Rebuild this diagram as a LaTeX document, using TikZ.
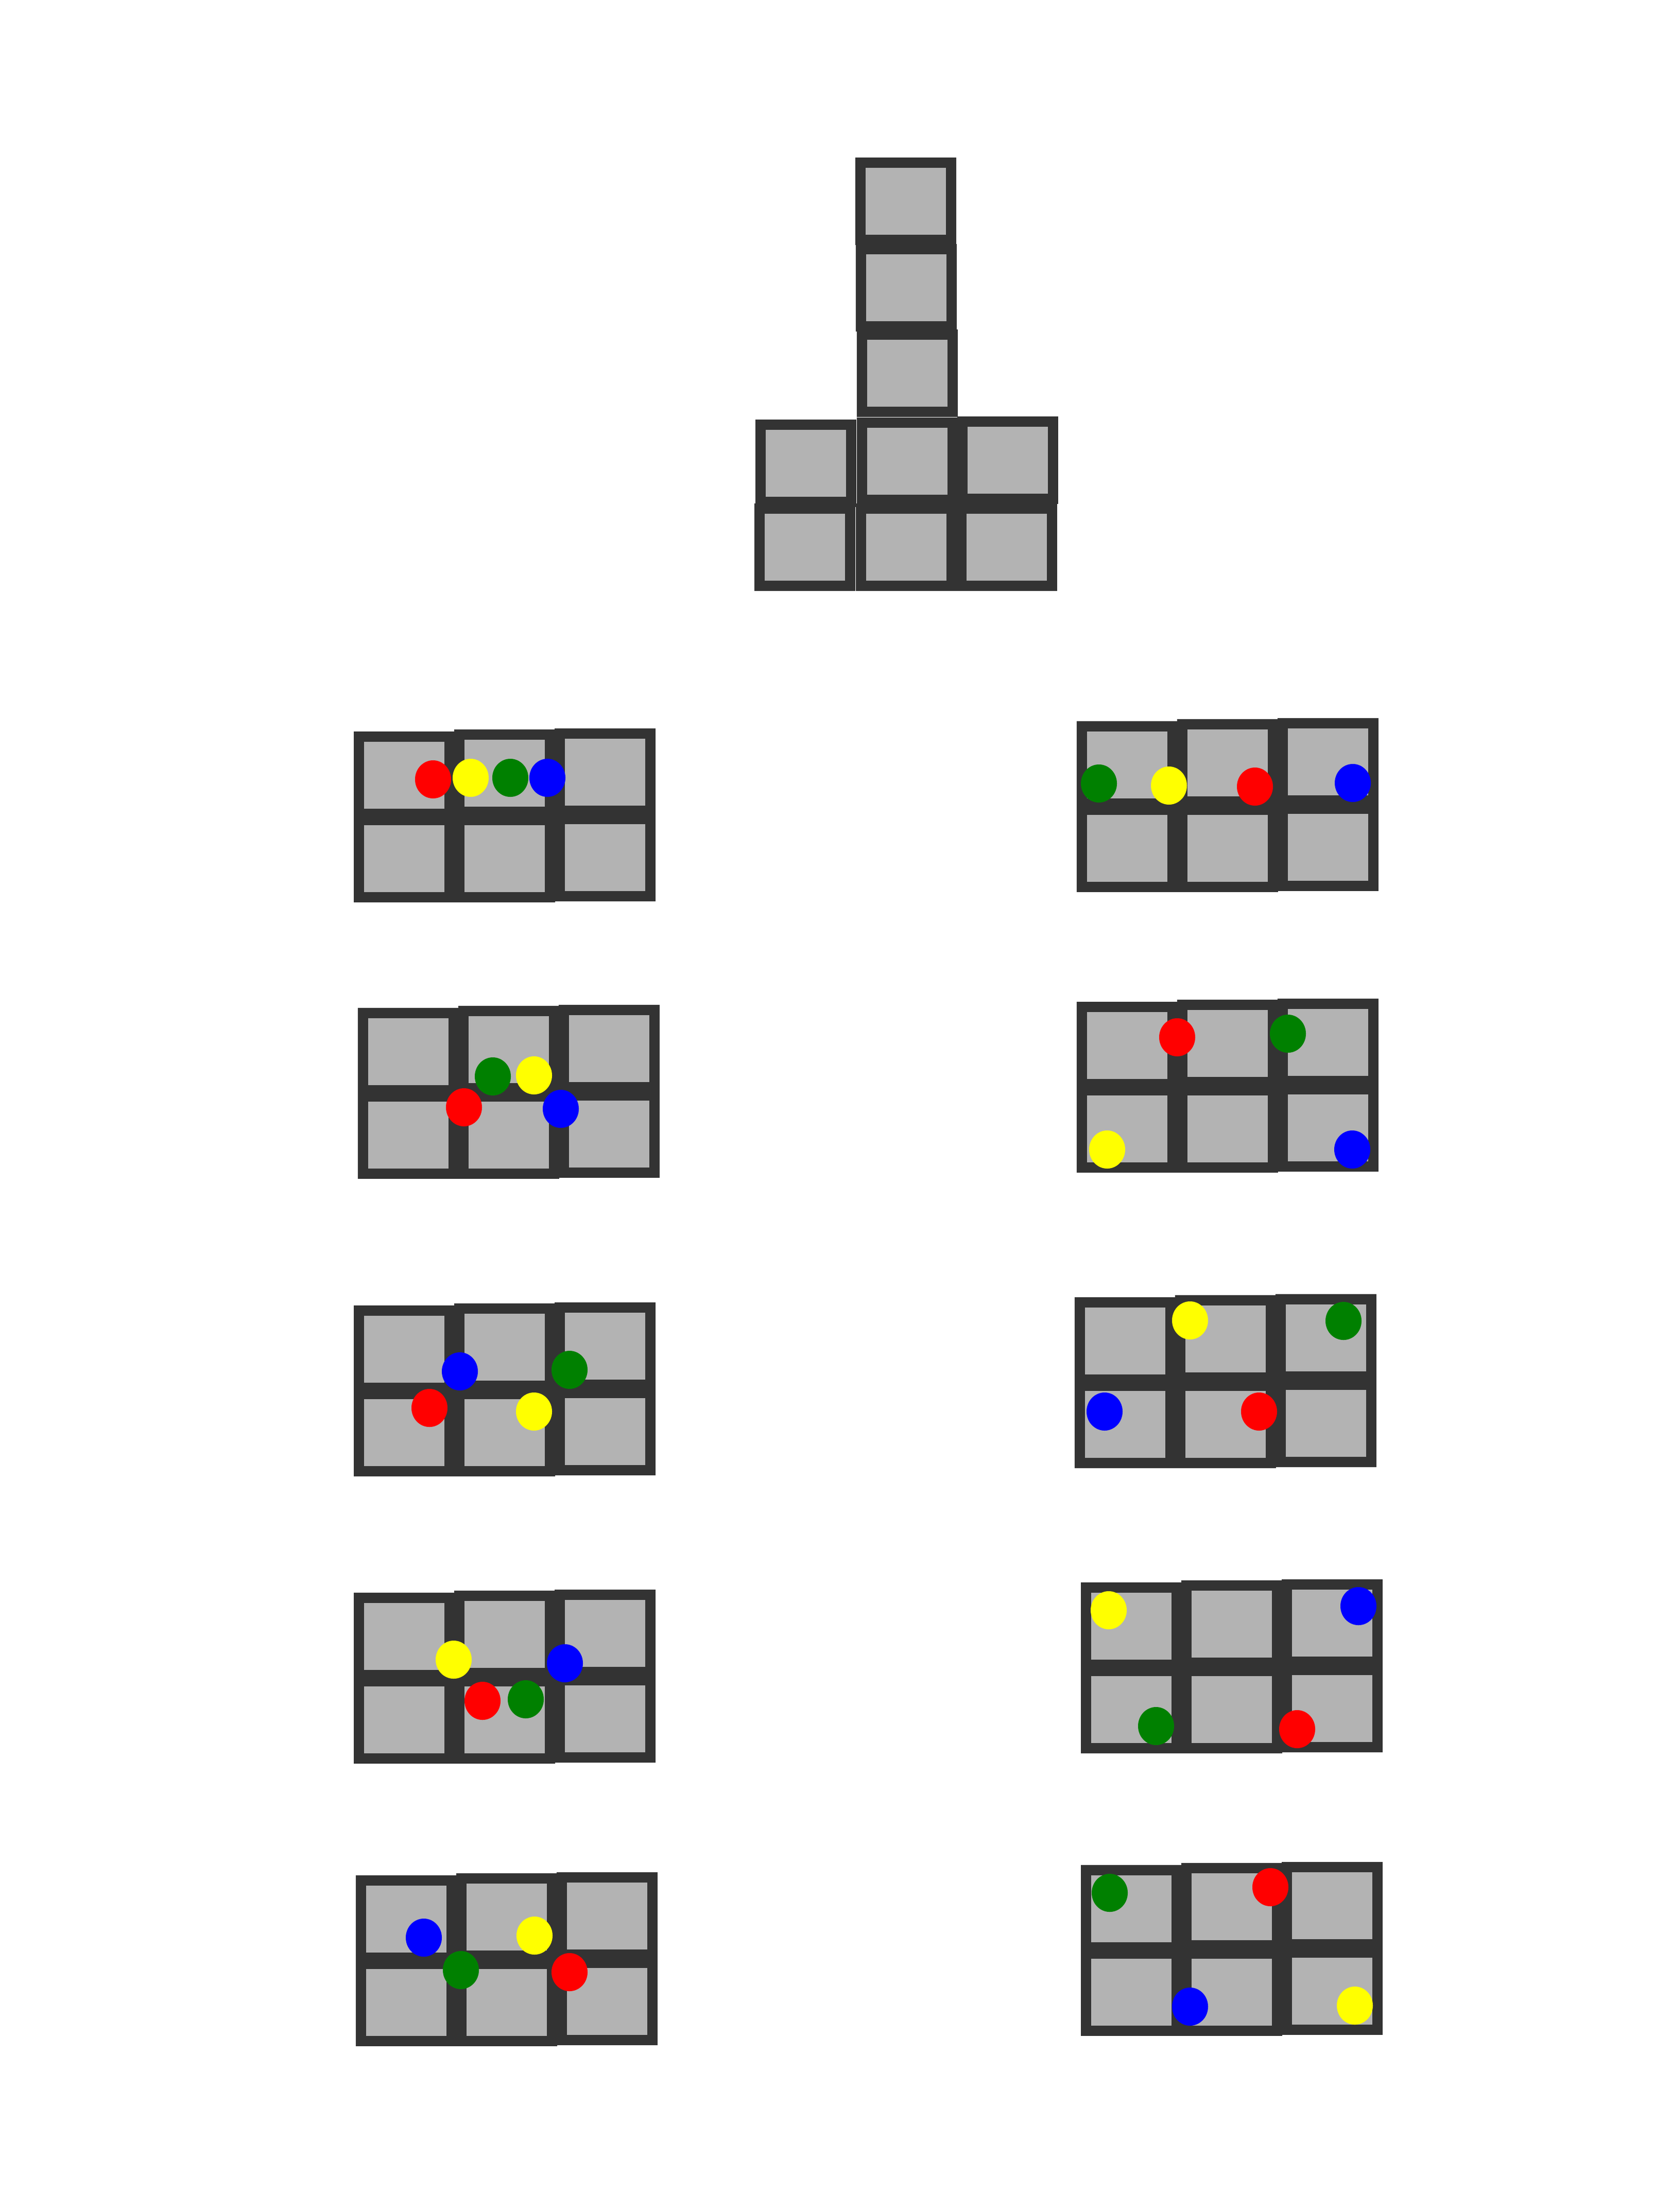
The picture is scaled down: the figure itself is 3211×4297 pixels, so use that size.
\documentclass[tikz,border=0pt]{standalone}
\usepackage{xcolor}
\usepackage{tikz}
\usetikzlibrary{positioning}
\definecolor{cellborder}{HTML}{333333}
\definecolor{cellgrey}{HTML}{B3B3B3}
\definecolor{dotred}{HTML}{FF0000}
\definecolor{dotyellow}{HTML}{FFFF00}
\definecolor{dotgreen}{HTML}{008000}
\definecolor{dotblue}{HTML}{0000FF}
% one cell, top left corner of its outer edge at (#1,#2)
\newcommand{\tcell}[2]{\draw[cell] (#1+10,#2+10) rectangle ++(176,150);}
% a block of 2 x 3 cells
\newcommand{\tpanel}[2]{
    \tcell{#1}{#2}
    \tcell{#1+195}{#2-4}
    \tcell{#1+390}{#2-6}
    \tcell{#1}{#2+162}
    \tcell{#1+195}{#2+162}
    \tcell{#1+390}{#2+160}
}

\begin{document}
\begin{tikzpicture}[x=0.01cm, y=-0.01cm,
    cell/.style={draw=cellborder, fill=cellgrey, line width=0.2cm},
    rdot/.style={fill=dotred},
    ydot/.style={fill=dotyellow},
    gdot/.style={fill=dotgreen},
    bdot/.style={fill=dotblue}]
    \def\rx{0.35cm}
    \def\ry{0.37cm}
    \useasboundingbox (0,0) rectangle (3211,4297);

    % the T shape on top
    \tcell{1661}{306}
    \tcell{1662}{474}
    \tcell{1664}{640}
    \tcell{1467}{815}
    \tcell{1664}{811}
    \tcell{1859}{809}
    \tcell{1465}{978}
    \tcell{1662}{978}
    \tcell{1857}{978}

    % left column of blocks
    \tpanel{687}{1421}
    \tpanel{695}{1958}
    \tpanel{687}{2536}
    \tpanel{687}{3094}
    \tpanel{691}{3643}

    % right column of blocks
    \tpanel{2091}{1401}
    \tpanel{2091}{1946}
    \tpanel{2087}{2520}
    \tpanel{2099}{3074}
    \tpanel{2099}{3623}

    % dots, left column
    \fill[rdot] (841,1514) ellipse [x radius=\rx, y radius=\ry];
    \fill[ydot] (914,1511) ellipse [x radius=\rx, y radius=\ry];
    \fill[gdot] (991,1511) ellipse [x radius=\rx, y radius=\ry];
    \fill[bdot] (1063,1511) ellipse [x radius=\rx, y radius=\ry];

    \fill[gdot] (957,2091) ellipse [x radius=\rx, y radius=\ry];
    \fill[ydot] (1037,2089) ellipse [x radius=\rx, y radius=\ry];
    \fill[rdot] (901,2151) ellipse [x radius=\rx, y radius=\ry];
    \fill[bdot] (1089,2154) ellipse [x radius=\rx, y radius=\ry];

    \fill[bdot] (893,2664) ellipse [x radius=\rx, y radius=\ry];
    \fill[gdot] (1106,2661) ellipse [x radius=\rx, y radius=\ry];
    \fill[rdot] (834,2735) ellipse [x radius=\rx, y radius=\ry];
    \fill[ydot] (1037,2742) ellipse [x radius=\rx, y radius=\ry];

    \fill[ydot] (881,3224) ellipse [x radius=\rx, y radius=\ry];
    \fill[bdot] (1097,3231) ellipse [x radius=\rx, y radius=\ry];
    \fill[rdot] (937,3304) ellipse [x radius=\rx, y radius=\ry];
    \fill[gdot] (1021,3301) ellipse [x radius=\rx, y radius=\ry];

    \fill[bdot] (823,3764) ellipse [x radius=\rx, y radius=\ry];
    \fill[ydot] (1038,3760) ellipse [x radius=\rx, y radius=\ry];
    \fill[gdot] (895,3827) ellipse [x radius=\rx, y radius=\ry];
    \fill[rdot] (1106,3831) ellipse [x radius=\rx, y radius=\ry];

    % dots, right column
    \fill[gdot] (2134,1522) ellipse [x radius=\rx, y radius=\ry];
    \fill[ydot] (2270,1526) ellipse [x radius=\rx, y radius=\ry];
    \fill[rdot] (2437,1528) ellipse [x radius=\rx, y radius=\ry];
    \fill[bdot] (2627,1521) ellipse [x radius=\rx, y radius=\ry];

    \fill[rdot] (2286,2015) ellipse [x radius=\rx, y radius=\ry];
    \fill[gdot] (2501,2008) ellipse [x radius=\rx, y radius=\ry];
    \fill[ydot] (2150,2233) ellipse [x radius=\rx, y radius=\ry];
    \fill[bdot] (2626,2233) ellipse [x radius=\rx, y radius=\ry];

    \fill[ydot] (2311,2565) ellipse [x radius=\rx, y radius=\ry];
    \fill[gdot] (2609,2566) ellipse [x radius=\rx, y radius=\ry];
    \fill[bdot] (2145,2742) ellipse [x radius=\rx, y radius=\ry];
    \fill[rdot] (2445,2742) ellipse [x radius=\rx, y radius=\ry];

    \fill[ydot] (2153,3128) ellipse [x radius=\rx, y radius=\ry];
    \fill[bdot] (2638,3120) ellipse [x radius=\rx, y radius=\ry];
    \fill[gdot] (2245,3353) ellipse [x radius=\rx, y radius=\ry];
    \fill[rdot] (2519,3359) ellipse [x radius=\rx, y radius=\ry];

    \fill[gdot] (2155,3677) ellipse [x radius=\rx, y radius=\ry];
    \fill[rdot] (2467,3666) ellipse [x radius=\rx, y radius=\ry];
    \fill[bdot] (2311,3898) ellipse [x radius=\rx, y radius=\ry];
    \fill[ydot] (2631,3896) ellipse [x radius=\rx, y radius=\ry];
\end{tikzpicture}
\end{document}
